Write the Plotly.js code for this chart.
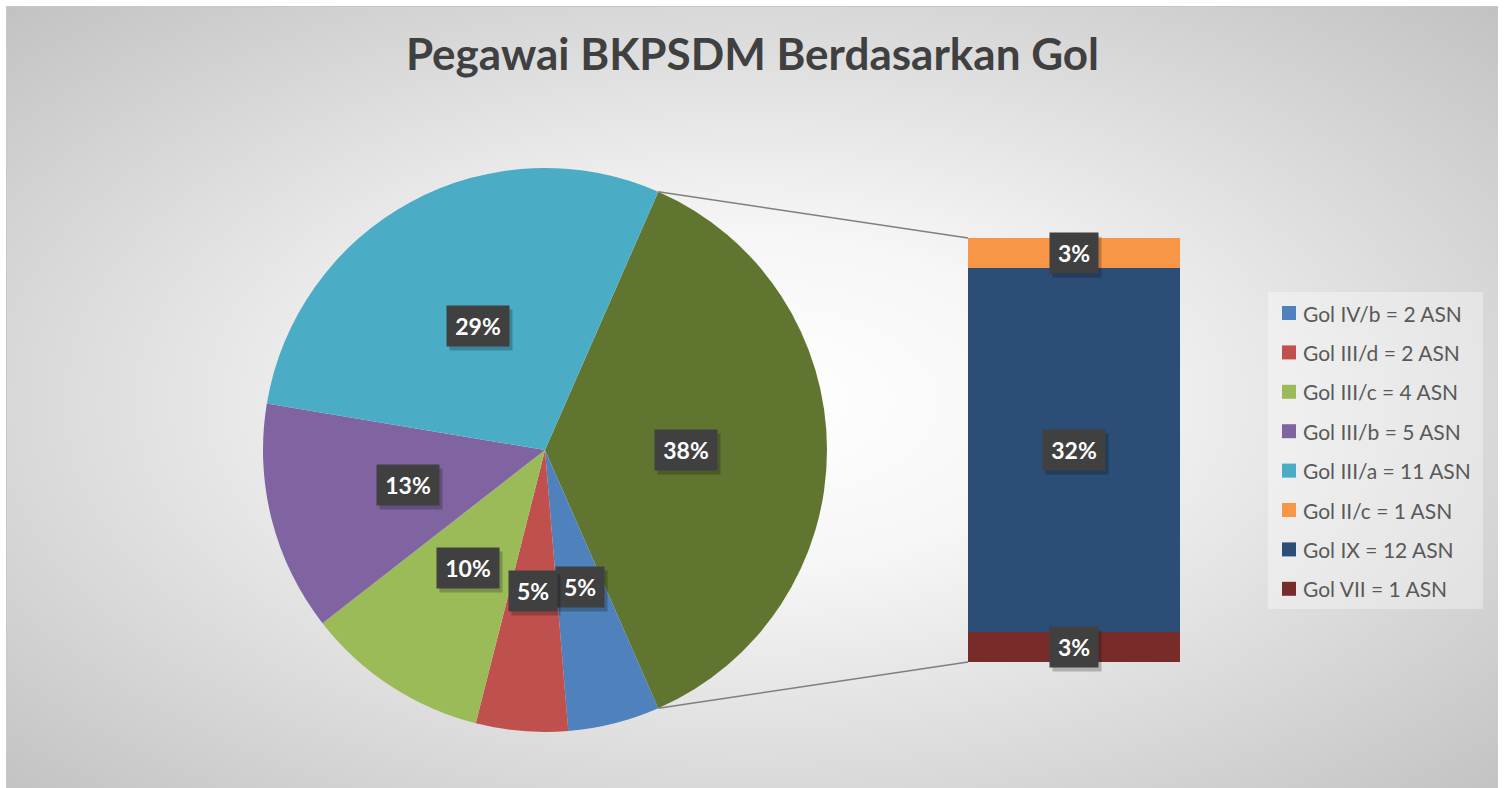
<!DOCTYPE html>
<html>
<head>
<meta charset="utf-8">
<script src="https://cdn.plot.ly/plotly-3.0.1.min.js"></script>
<style>
  html, body { margin:0; padding:0; background:#ffffff; overflow:hidden; }
  #frame { position:absolute; left:6px; top:6px; width:1492px; height:790px;
    background: radial-gradient(ellipse farthest-corner at 50% 50%, #ffffff 0%, #f6f6f6 30%, #dcdcdc 65%, #c2c2c2 100%);
    border-top:1px solid #c8c8c8; border-left:1px solid #c8c8c8; box-sizing:border-box; }
  #chart { position:absolute; left:0; top:0; width:1505px; height:788px; }
</style>
</head>
<body>
<div id="frame"></div>
<div id="chart"></div>
<script>
// ---- data ----
const titleText = "Pegawai BKPSDM Berdasarkan Gol";
const pieCategories = ["Gol IV/b", "Gol III/d", "Gol III/c", "Gol III/b", "Gol III/a"];
const pieCounts = [2, 2, 4, 5, 11];
const piePctLabels = ["5%", "5%", "10%", "13%", "29%"];
const barCategories = ["Gol II/c", "Gol IX", "Gol VII"];   // top to bottom
const barCounts = [1, 12, 1];
const barPctLabels = ["3%", "32%", "3%"];
const otherPctLabel = "38%";
const unitLabel = "ASN";

// ---- styles ----
const pieColors = ["#4F81BD", "#C0504D", "#9BBB59", "#8064A2", "#4BACC6"];
const barColors = ["#F79646", "#2C4D75", "#772C2A"];
const otherColor = "#60752F";

// ---- geometry (pixels in a 1505x788 page) ----
const W = 1505, H = 788;
const PIE = { cx: 545, cy: 450, r: 282 };
const BAR = { x0: 968, x1: 1180, y0: 238, y1: 662 };
const LEG = { x0: 1268, x1: 1483, y0: 292, y1: 609, firstY: 313, step: 39.4, sqX: 1282, sq: 14, textX: 1301 };
const px = x => x / W;
const py = y => 1 - y / H;
const FONT = "Lato, 'Open Sans', sans-serif";

const otherTotal = barCounts.reduce((a, b) => a + b, 0);
const pieTotal = pieCounts.reduce((a, b) => a + b, 0);
const total = otherTotal + pieTotal;
const otherSpan = 360 * otherTotal / total;
const rotation = 90 - otherSpan / 2;

const pieValues = [otherTotal].concat(pieCounts);
const pieLabelsAll = ["Lainnya"].concat(pieCategories);
const pieColorsAll = [otherColor].concat(pieColors);
const pieTextsAll = [otherPctLabel].concat(piePctLabels);

const traces = [];
traces.push({
  type: "pie",
  labels: pieLabelsAll,
  values: pieValues,
  sort: false,
  direction: "clockwise",
  rotation: rotation,
  marker: { colors: pieColorsAll, line: { width: 0 } },
  textinfo: "none",
  hoverinfo: "none",
  showlegend: false,
  domain: { x: [px(PIE.cx - PIE.r), px(PIE.cx + PIE.r)], y: [py(PIE.cy + PIE.r), py(PIE.cy - PIE.r)] }
});

// stacked bar: bottom first
for (let i = barCategories.length - 1; i >= 0; i--) {
  traces.push({
    type: "bar",
    x: [0],
    y: [barCounts[i]],
    width: [1],
    marker: { color: barColors[i], line: { width: 0 } },
    hoverinfo: "none",
    showlegend: false,
    xaxis: "x", yaxis: "y"
  });
}

const annotations = [];
const shapes = [];

function addLabel(a) {
  const w = 14 * a.text.length + 10;
  const common = { showarrow: false, width: w, height: 30, borderpad: 5, xanchor: "center", yanchor: "middle" };
  annotations.push(Object.assign({}, a, common, {
    text: "&nbsp;", bgcolor: "rgba(0,0,0,0.22)",
    font: { family: FONT, size: 22, color: "rgba(0,0,0,0)" },
    xshift: 3, yshift: -4
  }));
  annotations.push(Object.assign({}, a, common, {
    text: "<b>" + a.text + "</b>", bgcolor: "#404040",
    font: { family: FONT, size: 23, color: "#ffffff" }
  }));
}

// pie labels at half radius, slice mid-angles
let ang = rotation;
for (let i = 0; i < pieValues.length; i++) {
  const span = 360 * pieValues[i] / total;
  const mid = (ang + span / 2) * Math.PI / 180;
  ang += span;
  const lx = PIE.cx + 0.5 * PIE.r * Math.sin(mid);
  const ly = PIE.cy - 0.5 * PIE.r * Math.cos(mid);
  addLabel({ xref: "paper", yref: "paper", x: px(lx), y: py(ly), text: pieTextsAll[i] });
}

// bar labels
let base = 0;
for (let i = barCategories.length - 1; i >= 0; i--) {
  addLabel({ xref: "x", yref: "y", x: 0, y: base + barCounts[i] / 2, text: barPctLabels[i] });
  base += barCounts[i];
}

// connector lines
const a0 = rotation * Math.PI / 180, a1 = (rotation + otherSpan) * Math.PI / 180;
const p0 = [PIE.cx + PIE.r * Math.sin(a0), PIE.cy - PIE.r * Math.cos(a0)];
const p1 = [PIE.cx + PIE.r * Math.sin(a1), PIE.cy - PIE.r * Math.cos(a1)];
shapes.push({ type: "line", xref: "paper", yref: "paper", x0: px(p0[0]), y0: py(p0[1]), x1: px(BAR.x0), y1: py(BAR.y0), line: { color: "#7F7F7F", width: 1.5 } });
shapes.push({ type: "line", xref: "paper", yref: "paper", x0: px(p1[0]), y0: py(p1[1]), x1: px(BAR.x0), y1: py(BAR.y1), line: { color: "#7F7F7F", width: 1.5 } });

// legend box
shapes.push({ type: "rect", xref: "paper", yref: "paper", x0: px(LEG.x0), x1: px(LEG.x1), y0: py(LEG.y1), y1: py(LEG.y0), fillcolor: "rgba(255,255,255,0.35)", line: { width: 0 }, layer: "below" });
const legCats = pieCategories.concat(barCategories);
const legCounts = pieCounts.concat(barCounts);
const legColors = pieColors.concat(barColors);
for (let i = 0; i < legCats.length; i++) {
  const yc = LEG.firstY + i * LEG.step;
  shapes.push({ type: "rect", xref: "paper", yref: "paper", x0: px(LEG.sqX), x1: px(LEG.sqX + LEG.sq), y0: py(yc + LEG.sq / 2), y1: py(yc - LEG.sq / 2), fillcolor: legColors[i], line: { width: 0 } });
  annotations.push({ xref: "paper", yref: "paper", x: px(LEG.textX), y: py(yc), xanchor: "left", yanchor: "middle", showarrow: false,
    text: legCats[i] + " = " + legCounts[i] + " " + unitLabel, font: { family: FONT, size: 21, color: "#595959" } });
}

const layout = {
  width: W, height: H,
  margin: { l: 0, r: 0, t: 0, b: 0, pad: 0 },
  paper_bgcolor: "rgba(0,0,0,0)", plot_bgcolor: "rgba(0,0,0,0)",
  title: { text: "<b>" + titleText + "</b>", x: 0.5, xanchor: "center", xref: "paper", y: py(55), yanchor: "middle", yref: "paper",
    font: { family: FONT, size: 44, color: "#404040" } },
  barmode: "stack", bargap: 0,
  xaxis: { domain: [px(BAR.x0), px(BAR.x1)], range: [-0.5, 0.5], visible: false, fixedrange: true },
  yaxis: { domain: [py(BAR.y1), py(BAR.y0)], range: [0, otherTotal], visible: false, fixedrange: true },
  showlegend: false,
  annotations: annotations,
  shapes: shapes
};

Plotly.newPlot("chart", traces, layout, { displayModeBar: false, staticPlot: true });
</script>
</body>
</html>
